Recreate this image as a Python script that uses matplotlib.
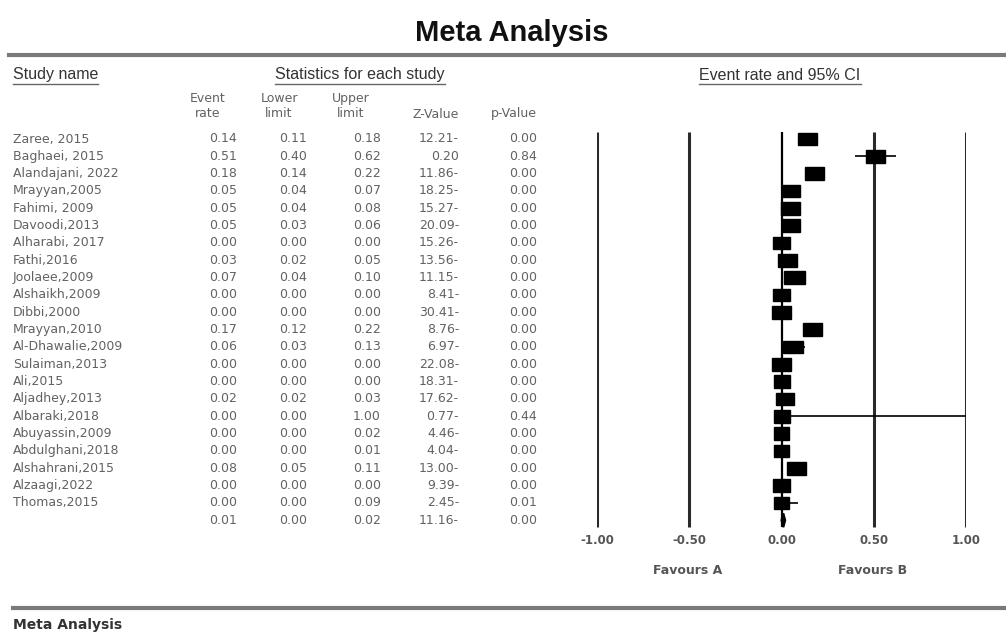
import matplotlib
matplotlib.use("Agg")
import matplotlib.pyplot as plt
from matplotlib.patches import Rectangle, Polygon
from matplotlib.lines import Line2D

# ---------------- data ----------------
studies = ["Zaree, 2015", "Baghaei, 2015", "Alandajani, 2022", "Mrayyan,2005",
           "Fahimi, 2009", "Davoodi,2013", "Alharabi, 2017", "Fathi,2016",
           "Joolaee,2009", "Alshaikh,2009", "Dibbi,2000", "Mrayyan,2010",
           "Al-Dhawalie,2009", "Sulaiman,2013", "Ali,2015", "Aljadhey,2013",
           "Albaraki,2018", "Abuyassin,2009", "Abdulghani,2018", "Alshahrani,2015",
           "Alzaagi,2022", "Thomas,2015"]
event_rate = [0.14, 0.51, 0.18, 0.05, 0.05, 0.05, 0.00, 0.03, 0.07, 0.00, 0.00,
              0.17, 0.06, 0.00, 0.00, 0.02, 0.00, 0.00, 0.00, 0.08, 0.00, 0.00]
lower_limit = [0.11, 0.40, 0.14, 0.04, 0.04, 0.03, 0.00, 0.02, 0.04, 0.00, 0.00,
               0.12, 0.03, 0.00, 0.00, 0.02, 0.00, 0.00, 0.00, 0.05, 0.00, 0.00]
upper_limit = [0.18, 0.62, 0.22, 0.07, 0.08, 0.06, 0.00, 0.05, 0.10, 0.00, 0.00,
               0.22, 0.13, 0.00, 0.00, 0.03, 1.00, 0.02, 0.01, 0.11, 0.00, 0.09]
z_value = ["12.21-", "0.20", "11.86-", "18.25-", "15.27-", "20.09-", "15.26-",
           "13.56-", "11.15-", "8.41-", "30.41-", "8.76-", "6.97-", "22.08-",
           "18.31-", "17.62-", "0.77-", "4.46-", "4.04-", "13.00-", "9.39-", "2.45-"]
p_value = [0.00, 0.84, 0.00, 0.00, 0.00, 0.00, 0.00, 0.00, 0.00, 0.00, 0.00,
           0.00, 0.00, 0.00, 0.00, 0.00, 0.44, 0.00, 0.00, 0.00, 0.00, 0.01]
# relative study weight (box size)
box_weight = [19, 19, 19, 18, 19, 18, 17, 19, 21, 17, 19, 19, 20, 19, 16, 18,
              16, 15, 15, 19, 17, 15]
summary = {"event": 0.01, "lower": 0.00, "upper": 0.02, "z": "11.16-", "p": 0.00}
x_ticks = [-1.0, -0.5, 0.0, 0.5, 1.0]
tick_labels = ["-1.00", "-0.50", "0.00", "0.50", "1.00"]

# ---------------- layout helpers ----------------
W, H = 1006, 633
fig = plt.figure(figsize=(W / 100, H / 100), dpi=100)
fig.patch.set_facecolor("white")

def fx(x):
    return x / W

def fy(y):
    return 1 - y / H

ARIAL = ["Liberation Sans", "DejaVu Sans"]
TXT = "#626262"

row_y0 = 139.0
row_step = 17.33

def row_px(i):
    return row_y0 + i * row_step

# title and separator lines
fig.text(fx(512), fy(33), "Meta Analysis", ha="center", va="center",
         fontsize=21, fontweight="bold", family=ARIAL, color="#111111")
fig.add_artist(Line2D([fx(9), fx(1006)], [fy(55), fy(55)], color="#7a7a7a",
                      lw=3.0, transform=fig.transFigure))
fig.add_artist(Line2D([fx(13), fx(1006)], [fy(608), fy(608)], color="#7a7a7a",
                      lw=3.0, transform=fig.transFigure))
fig.text(fx(13), fy(625), "Meta Analysis", ha="left", va="center",
         fontsize=10, fontweight="bold", family="DejaVu Sans", color="#333333")

# underlined section headers
hdrs = [(13, "Study name", "left"), (360, "Statistics for each study", "center"),
        (780, "Event rate and 95% CI", "center")]
hdr_texts = [fig.text(fx(x), fy(75), s, ha=ha, va="center", fontsize=11.5,
                      family=ARIAL, color="#333333") for x, s, ha in hdrs]
fig.canvas.draw()
renderer = fig.canvas.get_renderer()
for t in hdr_texts:
    bb = t.get_window_extent(renderer)
    ypx = bb.y0 - 1
    fig.add_artist(Line2D([bb.x0 / W, bb.x1 / W], [ypx / H, ypx / H],
                          color="#666666", lw=1.0, transform=fig.transFigure))

# column headers
col_hdr = [(208, "Event\nrate"), (279, "Lower\nlimit"), (351, "Upper\nlimit")]
for x, s in col_hdr:
    fig.text(fx(x), fy(106), s, ha="center", va="center", fontsize=9,
             family="DejaVu Sans", color=TXT, linespacing=1.15)
fig.text(fx(459), fy(114), "Z-Value", ha="right", va="center", fontsize=9,
         family="DejaVu Sans", color=TXT)
fig.text(fx(537), fy(114), "p-Value", ha="right", va="center", fontsize=9,
         family="DejaVu Sans", color=TXT)

# table rows
col_right = [237, 307, 381, 459, 537]
for i, name in enumerate(studies):
    y = fy(row_px(i))
    fig.text(fx(13), y, name, ha="left", va="center", fontsize=9,
             family="DejaVu Sans", color=TXT)
    vals = [f"{event_rate[i]:.2f}", f"{lower_limit[i]:.2f}", f"{upper_limit[i]:.2f}",
            z_value[i], f"{p_value[i]:.2f}"]
    for xr, v in zip(col_right, vals):
        fig.text(fx(xr), y, v, ha="right", va="center", fontsize=9,
                 family="DejaVu Sans", color=TXT)
ys = fy(row_px(len(studies)))
svals = [f"{summary['event']:.2f}", f"{summary['lower']:.2f}", f"{summary['upper']:.2f}",
         summary["z"], f"{summary['p']:.2f}"]
for xr, v in zip(col_right, svals):
    fig.text(fx(xr), ys, v, ha="right", va="center", fontsize=9,
             family="DejaVu Sans", color=TXT)

# ---------------- forest plot ----------------
x_left_px, x_right_px = 597, 966
ax_top_px, ax_bot_px = 130, 530
ax = fig.add_axes([fx(x_left_px), fy(ax_bot_px),
                   (x_right_px - x_left_px) / W, (ax_bot_px - ax_top_px) / H])
ax.set_xlim(-1, 1)
y_top = (ax_top_px - row_y0) / row_step
y_bot = (ax_bot_px - row_y0) / row_step
ax.set_ylim(y_bot, y_top)
ax.axis("off")
ax.patch.set_alpha(0)

px_per_unit = (x_right_px - x_left_px) / 2.0
line_lo = (132 - row_y0) / row_step
line_hi = (527 - row_y0) / row_step
for xv in x_ticks:
    if xv == 0:
        ax.vlines(xv, line_lo, line_hi, color="black", lw=1.6, zorder=2)
    else:
        ax.vlines(xv, line_lo, line_hi, color="#2a2a2a", lw=2.2, zorder=2)

for i in range(len(studies)):
    ax.hlines(i, lower_limit[i], upper_limit[i], color="black", lw=1.2, zorder=3)
    wpx = box_weight[i]
    hpx = 12.5
    wd = wpx / px_per_unit
    hd = hpx / row_step
    ax.add_patch(Rectangle((event_rate[i] - wd / 2, i - hd / 2), wd, hd,
                           facecolor="black", edgecolor="black", zorder=4))

n = len(studies)
dh = 0.4
ax.add_patch(Polygon([[summary["lower"], n], [summary["event"], n - dh],
                      [summary["upper"], n], [summary["event"], n + dh]],
                     closed=True, facecolor="black", edgecolor="black", lw=1.5,
                     zorder=4))

for xv, lab in zip(x_ticks, tick_labels):
    fig.text(fx(x_left_px + (xv + 1) * px_per_unit), fy(540), lab, ha="center",
             va="center", fontsize=8.5, fontweight="bold", family="DejaVu Sans",
             color="#555555")
fig.text(fx(688), fy(571), "Favours A", ha="center", va="center", fontsize=9,
         fontweight="bold", family="DejaVu Sans", color="#555555")
fig.text(fx(873), fy(571), "Favours B", ha="center", va="center", fontsize=9,
         fontweight="bold", family="DejaVu Sans", color="#555555")

fig.savefig("out.png", dpi=100, facecolor="white")
